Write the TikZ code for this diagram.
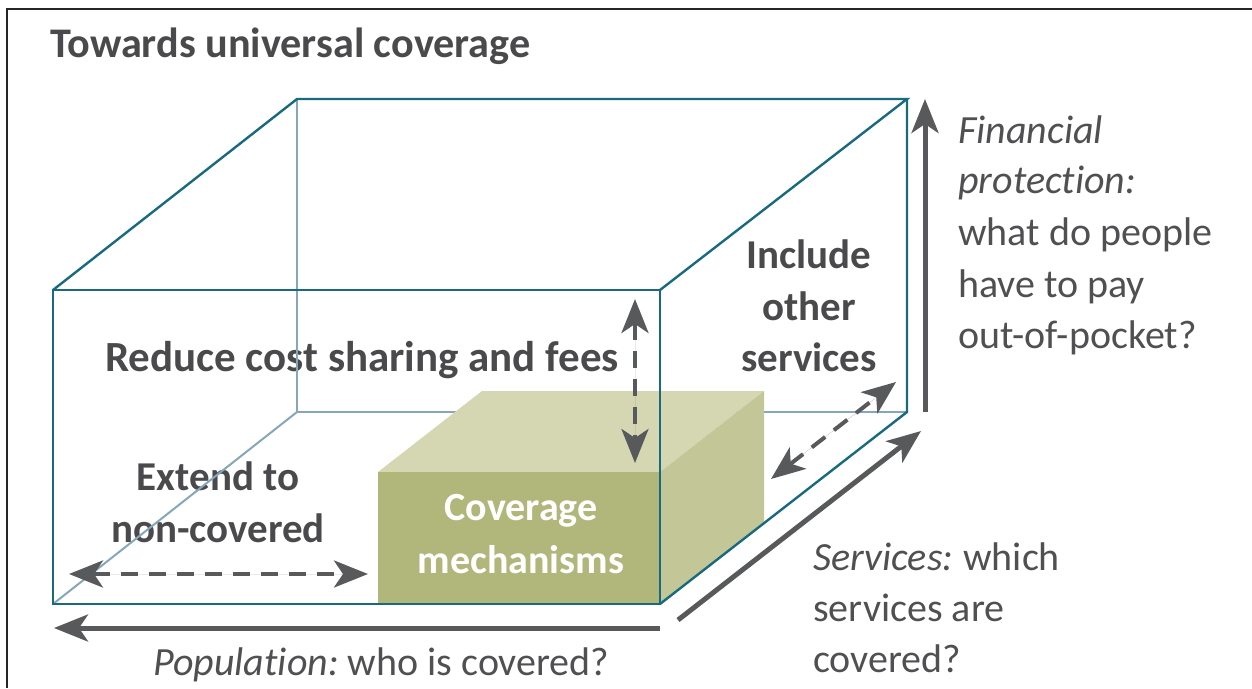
\documentclass[tikz,border=0pt]{standalone}
\usepackage{fontspec}
\setmainfont{Carlito}[Ligatures=NoCommon, Contextuals=NoAlternate]
\usetikzlibrary{arrows.meta}
\definecolor{txt}{HTML}{4A4A4C}
\definecolor{txtl}{HTML}{505052}
\definecolor{arr}{HTML}{58595B}
\definecolor{boxdark}{HTML}{1A6A7F}
\definecolor{boxlight}{HTML}{86A6B9}
\definecolor{gfront}{HTML}{B1B77B}
\definecolor{gtop}{HTML}{D4D7B2}
\definecolor{gright}{HTML}{C3C797}
\tikzset{
  frameline/.style={draw=black!85, line width=2pt},
  darkedge/.style={draw=boxdark, line width=2.4pt, line join=miter},
  lightedge/.style={draw=boxlight, line width=2pt},
  headtip/.tip={Stealth[length=34pt,width=27pt,inset=9pt]},
  solidarrow/.style={draw=arr, line width=5pt, -headtip, fill=arr},
  dasharrow/.style={draw=arr, line width=4pt, headtip-headtip, dash pattern=on 17pt off 11pt, fill=arr},
  boldlabel/.style={text=txt, font=\fontsize{41}{51}\selectfont\bfseries, inner sep=0pt},
  lightlabel/.style={text=txtl, font=\fontsize{40}{51.5}\selectfont, inner sep=0pt},
}
\begin{document}
\begin{tikzpicture}[x=1pt,y=-1pt]
\useasboundingbox (0,0) rectangle (1252,688);
% frame
\coordinate (fa) at (7,688);
\coordinate (fb) at (7,9);
\coordinate (fc) at (1252,9);
\draw[frameline] (fa) -- (fb) -- (fc);

% title
\node[boldlabel, font=\fontsize{42.2}{51}\selectfont\bfseries, anchor=base west] (title) at (50,57) {Towards universal coverage};

% box coordinates
\coordinate (F1) at (53,290);
\coordinate (F2) at (660,290);
\coordinate (F3) at (660,604);
\coordinate (F4) at (53,604);
\coordinate (B1) at (297,99);
\coordinate (B2) at (907,99);
\coordinate (B3) at (907,412);
\coordinate (B4) at (297,412);

% labels inside box
\node[boldlabel, font=\fontsize{43}{51}\selectfont\bfseries, anchor=base west] (reduce) at (105,371) {Reduce cost sharing and fees};
\node[boldlabel, anchor=base] (include1) at (809,268) {Include};
\node[boldlabel, anchor=base] (include2) at (809,320) {other};
\node[boldlabel, anchor=base] (include3) at (809,371) {services};
\node[boldlabel, anchor=base] (extend1) at (218,490) {Extend to};
\node[boldlabel, anchor=base] (extend2) at (218,542) {non-covered};

% hidden edges
\draw[lightedge] (B1) -- (B4) -- (B3);
\draw[lightedge] (F4) -- (B4);

% green block
\coordinate (G1) at (378,472);
\coordinate (G2) at (660,472);
\coordinate (G3) at (764,391);
\coordinate (G4) at (482,391);
\coordinate (G5) at (764,524);
\coordinate (G6) at (378,604);
\fill[gtop] (G1) -- (G4) -- (G3) -- (G2) -- cycle;
\fill[gright] (G2) -- (G3) -- (G5) -- (F3) -- cycle;
\fill[gfront] (G1) -- (G2) -- (F3) -- (G6) -- cycle;
\node[text=white, font=\fontsize{40}{51}\selectfont\bfseries, inner sep=0pt, anchor=base] (cov1) at (521,520) {Coverage};
\node[text=white, font=\fontsize{40}{51}\selectfont\bfseries, inner sep=0pt, anchor=base] (cov2) at (521,573) {mechanisms};

% visible edges
\draw[darkedge] (F1) -- (F2) -- (F3) -- (F4) -- cycle;
\draw[darkedge] (F1) -- (B1) -- (B2) -- (F2);
\draw[darkedge] (B2) -- (B3) -- (F3);

% dashed arrows
\coordinate (h1) at (69,574);
\coordinate (h2) at (368,574);
\coordinate (v1) at (635,299);
\coordinate (v2) at (635,463);
\coordinate (d1) at (771,479);
\coordinate (d2) at (896,382);
\draw[dasharrow] (h1) -- (h2);
\draw[dasharrow] (v1) -- (v2);
\draw[dasharrow] (d1) -- (d2);

% solid arrows
\coordinate (p1) at (660,628);
\coordinate (p2) at (54,628);
\coordinate (s1) at (678,620);
\coordinate (s2) at (921,431);
\coordinate (q1) at (925,412);
\coordinate (q2) at (925,99);
\draw[solidarrow] (p1) -- (p2);
\draw[solidarrow] (s1) -- (s2);
\draw[solidarrow] (q1) -- (q2);

% axis labels
\node[lightlabel, anchor=base west] (pop) at (153,675) {{\itshape Popula\kern0pt tion:}\hspace{9pt}who is covered?};
\node[lightlabel, anchor=base west] (serv1) at (813,570) {{\itshape Services:}\hspace{10pt}which};
\node[lightlabel, anchor=base west] (serv2) at (813,621) {services are};
\node[lightlabel, anchor=base west] (serv3) at (813,672) {covered?};
\node[lightlabel, anchor=base west] (fin1) at (958,143) {{\itshape Financial}};
\node[lightlabel, anchor=base west] (fin2) at (958,193) {{\itshape protec\kern0pt tion:}};
\node[lightlabel, anchor=base west] (fin3) at (958,245) {what do people};
\node[lightlabel, anchor=base west] (fin4) at (958,297) {have to pay};
\node[lightlabel, anchor=base west] (fin5) at (958,348) {out-of-pocket?};
\end{tikzpicture}
\end{document}
